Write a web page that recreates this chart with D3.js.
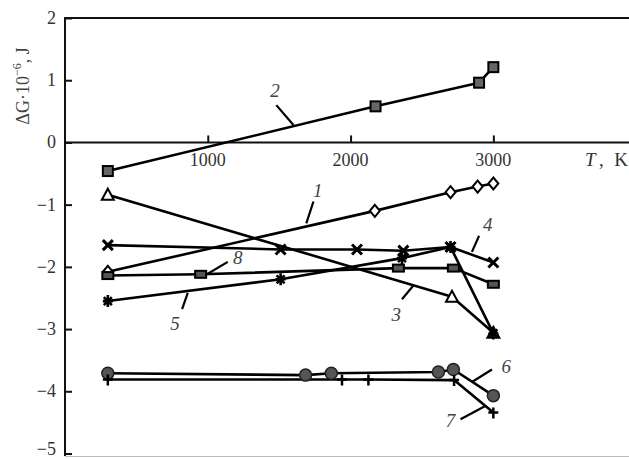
<!DOCTYPE html>
<html><head><meta charset="utf-8">
<script src="https://cdn.jsdelivr.net/npm/d3@7"></script>
<style>body{margin:0;background:#fff}svg{display:block}</style>
</head><body>
<script>
const xTicks = [1000, 2000, 3000];
const yTicks = [2, 1, 0, -1, -2, -3, -4, -5];

const s1T = [300, 2170, 2700, 2890, 3000];
const s1V = [-2.08, -1.10, -0.80, -0.71, -0.66];
const s2T = [300, 2175, 2900, 3000];
const s2V = [-0.46, 0.58, 0.96, 1.21];
const s3T = [300, 2710, 3000];
const s3V = [-0.84, -2.48, -3.06];
const s4T = [300, 1510, 2045, 2370, 2700, 3000];
const s4V = [-1.65, -1.72, -1.72, -1.74, -1.68, -1.93];
const s5T = [300, 1510, 2360, 2700, 3000];
const s5V = [-2.55, -2.20, -1.86, -1.68, -3.07];
const s6T = [300, 1685, 1865, 2615, 2720, 3000];
const s6V = [-3.71, -3.74, -3.71, -3.69, -3.65, -4.07];
const s7T = [300, 1940, 2125, 2725, 3000];
const s7V = [-3.81, -3.81, -3.81, -3.82, -4.34];
const s8T = [300, 950, 2335, 2720, 3000];
const s8V = [-2.14, -2.12, -2.02, -2.02, -2.28];

const seriesNames = ["1","2","3","4","5","6","7","8"];
const seriesMarkers = ["diamond","square","triangle","cross","asterisk","circle","plus","rect"];
// label positions [T, v] and leader [T1,v1,T2,v2]
const labelPos = [[1770,-0.80],[1470,0.80],[2320,-2.80],[2960,-1.35],[770,-2.95],[3090,-3.63],[2700,-4.50],[1210,-1.88]];
const leaderPos = [
  [1740,-0.95,1690,-1.30],
  [1480,0.60,1600,0.28],
  [2360,-2.52,2440,-2.30],
  [2900,-1.50,2850,-1.76],
  [820,-2.68,860,-2.42],
  [2990,-3.65,2850,-3.85],
  [2770,-4.45,2940,-4.24],
  [1000,-2.11,1140,-1.92]
];

const series = [
  {T:s1T,V:s1V},{T:s2T,V:s2V},{T:s3T,V:s3V},{T:s4T,V:s4V},
  {T:s5T,V:s5V},{T:s6T,V:s6V},{T:s7T,V:s7V},{T:s8T,V:s8V}
];

const W = 629, H = 459;
const svg = d3.select("body").append("svg").attr("width", W).attr("height", H);
const x = d3.scaleLinear().domain([0, 3950]).range([65, 629]);
const y = d3.scaleLinear().domain([-5, 2]).range([453.5, 18]);

const serif = "'Liberation Serif','DejaVu Serif',serif";

// frame
svg.append("line").attr("x1",65).attr("x2",629).attr("y1",y(2)).attr("y2",y(2)).attr("stroke","#111").attr("stroke-width",2);
svg.append("line").attr("x1",65).attr("x2",629).attr("y1",456.5).attr("y2",456.5).attr("stroke","#bbb").attr("stroke-width",1);

// y axis
const yAxis = d3.axisRight(y).tickValues(yTicks).tickSize(7).tickFormat("");
const gy = svg.append("g").attr("transform","translate(65,0)").call(yAxis);
gy.select(".domain").attr("stroke","#111").attr("stroke-width",2).attr("d", `M0,${y(2)-1}V456`);
gy.selectAll(".tick line").attr("stroke","#111").attr("stroke-width",2);
svg.append("g").selectAll("text").data(yTicks).join("text")
  .attr("x", 56).attr("y", d => Math.min(y(d) + 6, 455))
  .attr("text-anchor","end").attr("font-family",serif).attr("font-size",18).attr("fill","#333")
  .text(d => d < 0 ? "\u2212" + Math.abs(d) : d);

// x axis at zero
const xAxis = d3.axisTop(x).tickValues(xTicks).tickSize(7).tickFormat("");
const gx = svg.append("g").attr("transform",`translate(0,${y(0)})`).call(xAxis);
gx.select(".domain").attr("stroke","#111").attr("stroke-width",2).attr("d","M65,0H629");
gx.selectAll(".tick line").attr("stroke","#111").attr("stroke-width",2);
svg.append("g").selectAll("text").data(xTicks).join("text")
  .attr("x", d => x(d)).attr("y", y(0) + 24)
  .attr("text-anchor","middle").attr("font-family",serif).attr("font-size",18).attr("fill","#333")
  .text(d => d);
svg.append("text").attr("x",585).attr("y",y(0)+24).attr("font-family",serif).attr("font-size",19).attr("font-style","italic").attr("fill","#333").text("T");
svg.append("text").attr("x",599).attr("y",y(0)+24).attr("font-family",serif).attr("font-size",19).attr("fill","#333").text(",");
svg.append("text").attr("x",628).attr("y",y(0)+24).attr("text-anchor","end").attr("font-family",serif).attr("font-size",19).attr("fill","#333").text("K");

// y label
const yl = svg.append("text").attr("transform","translate(29,86) rotate(-90)").attr("text-anchor","middle")
  .attr("font-family",serif).attr("font-size",18).attr("fill","#444");
yl.append("tspan").text("\u0394G\u00b710");
yl.append("tspan").attr("dy",-8).attr("font-size",12).text("\u22126");
yl.append("tspan").attr("dy",8).text(", J");

// lines
const line = d3.line().x(d => x(d[0])).y(d => y(d[1]));
series.forEach((s,i) => {
  const pts = s.T.map((t,j) => [t, s.V[j]]);
  svg.append("path").datum(pts).attr("d", line).attr("fill","none").attr("stroke","#000").attr("stroke-width",2.6).attr("stroke-linejoin","round");
});

// markers
function drawMarker(g, type, cx, cy) {
  const sw = 2;
  if (type === "square") {
    g.append("rect").attr("x",cx-5).attr("y",cy-5).attr("width",10).attr("height",10).attr("fill","#666").attr("stroke","#000").attr("stroke-width",sw);
  } else if (type === "rect") {
    g.append("rect").attr("x",cx-5.5).attr("y",cy-3.5).attr("width",11).attr("height",7).attr("fill","#555").attr("stroke","#000").attr("stroke-width",sw);
  } else if (type === "diamond") {
    g.append("path").attr("d",`M${cx},${cy-6}L${cx+5},${cy}L${cx},${cy+6}L${cx-5},${cy}Z`).attr("fill","#fff").attr("stroke","#000").attr("stroke-width",sw);
  } else if (type === "triangle") {
    g.append("path").attr("d",`M${cx},${cy-6}L${cx+6},${cy+5}L${cx-6},${cy+5}Z`).attr("fill","#fff").attr("stroke","#000").attr("stroke-width",sw);
  } else if (type === "circle") {
    g.append("circle").attr("cx",cx).attr("cy",cy).attr("r",6).attr("fill","#555").attr("stroke","#222").attr("stroke-width",1.5);
  } else if (type === "cross") {
    g.append("path").attr("d",`M${cx-5},${cy-5}L${cx+5},${cy+5}M${cx-5},${cy+5}L${cx+5},${cy-5}`).attr("stroke","#000").attr("stroke-width",3);
  } else if (type === "plus") {
    g.append("path").attr("d",`M${cx-5},${cy}L${cx+5},${cy}M${cx},${cy-5}L${cx},${cy+6}`).attr("stroke","#000").attr("stroke-width",2.5);
  } else if (type === "asterisk") {
    g.append("path").attr("d",`M${cx-5},${cy}L${cx+5},${cy}M${cx},${cy-6}L${cx},${cy+6}M${cx-4},${cy-4}L${cx+4},${cy+4}M${cx-4},${cy+4}L${cx+4},${cy-4}`).attr("stroke","#000").attr("stroke-width",2.6);
  }
}
series.forEach((s,i) => {
  const g = svg.append("g");
  s.T.forEach((t,j) => drawMarker(g, seriesMarkers[i], x(t), y(s.V[j])));
});

// labels and leaders
leaderPos.forEach(l => {
  svg.append("line").attr("x1",x(l[0])).attr("y1",y(l[1])).attr("x2",x(l[2])).attr("y2",y(l[3])).attr("stroke","#000").attr("stroke-width",2.2);
});
labelPos.forEach((p,i) => {
  svg.append("text").attr("x",x(p[0])).attr("y",y(p[1])).attr("text-anchor","middle").attr("dominant-baseline","middle")
    .attr("font-family",serif).attr("font-style","italic").attr("font-size",19).attr("fill","#444").text(seriesNames[i]);
});
</script>
</body></html>
